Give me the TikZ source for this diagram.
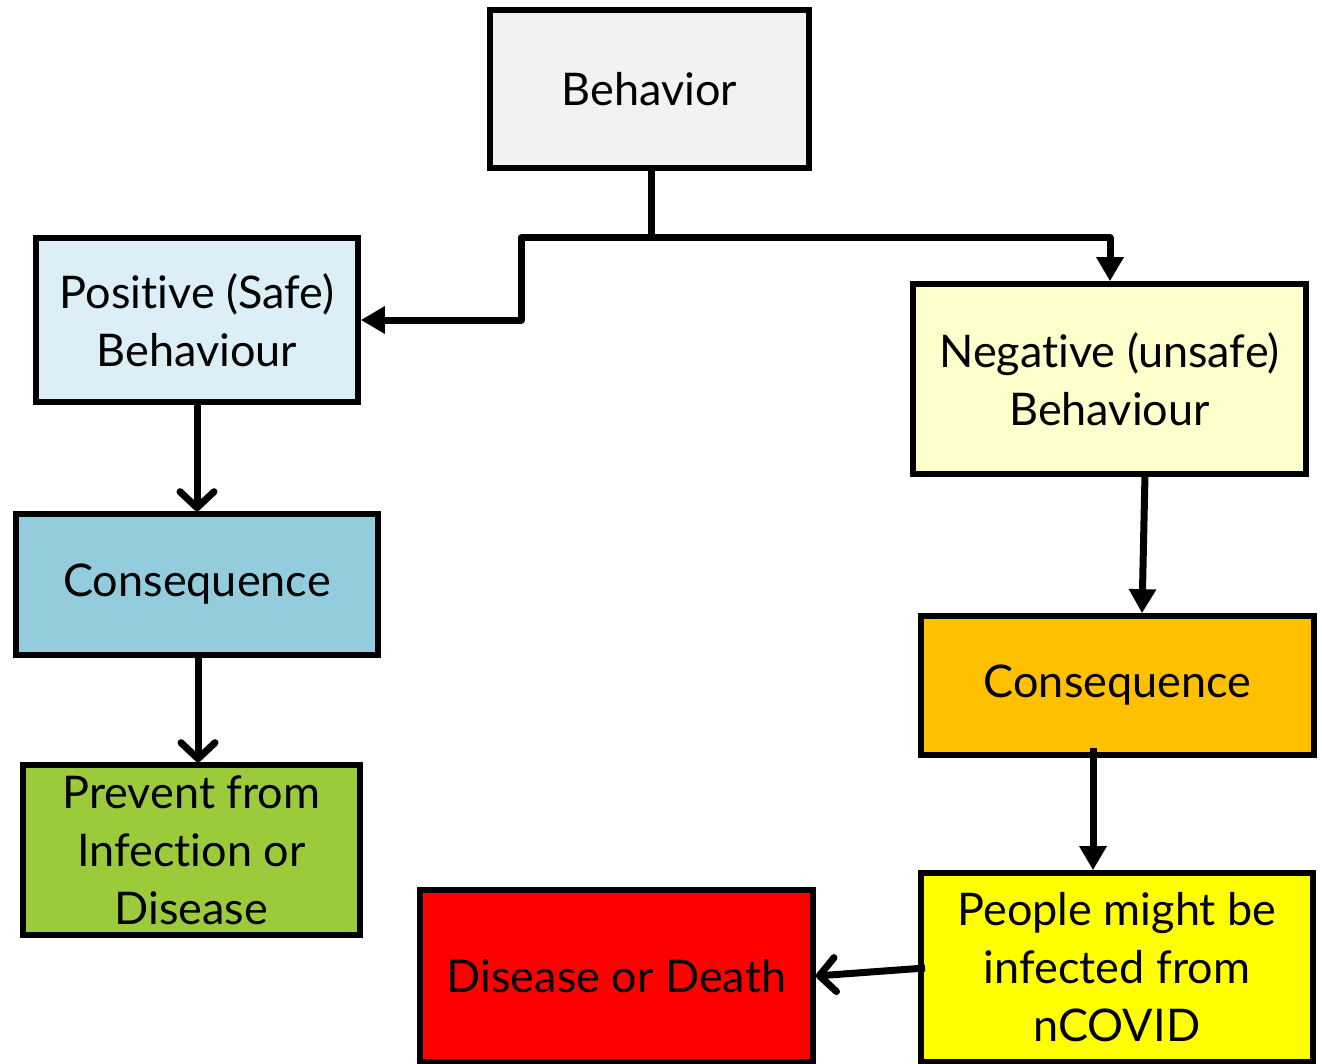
\documentclass[tikz,border=0pt]{standalone}
\usepackage{fontspec}
\setmainfont{Lato}[Ligatures={NoCommon,NoRare,NoDiscretionary}]
\usetikzlibrary{arrows.meta}
\begin{document}
\begin{tikzpicture}[x=0.5pt,y=-0.5pt,
  box/.style={draw=black,line width=2.8pt,inner sep=0pt,align=center,
    font=\fontsize{22.5}{29}\selectfont,text=black},
  conn/.style={line width=3.5pt,line join=round},
  tri/.style={-{Triangle[length=12pt,width=13pt]}},
  vee/.style={-{Straight Barb[length=8pt,width=17pt,line cap=round,line join=round]}}]
\useasboundingbox (0,0) rectangle (1322,1064);
\definecolor{cgray}{HTML}{F2F2F2}
\definecolor{cpos}{HTML}{DDEFF6}
\definecolor{ccon1}{HTML}{93CDDD}
\definecolor{cgreen}{HTML}{9BCB3B}
\definecolor{cneg}{HTML}{FFFFCC}
\definecolor{ccon2}{HTML}{FFC000}
\definecolor{cyel}{HTML}{FFFF00}
\definecolor{cred}{HTML}{FF0000}
\node[box,fill=cgray,minimum width=159.5pt,minimum height=79pt] (beh) at (649.5,89) {Behavior};
\node[box,fill=cpos,minimum width=161pt,minimum height=82pt] (pos) at (197,320) {Positive (Safe)\\Behaviour};
\node[box,fill=ccon1,minimum width=181pt,minimum height=70.5pt] (con1) at (197,584.5) {\raisebox{2pt}{Consequence}};
\node[box,fill=cgreen,minimum width=168.5pt,minimum height=85pt] (prev) at (191.5,850) {Prevent from\\Infection or\\Disease};
\node[box,fill=cneg,minimum width=196.5pt,minimum height=95pt] (neg) at (1109.5,379) {Negative (unsafe)\\Behaviour};
\node[box,fill=ccon2,minimum width=196.5pt,minimum height=69.5pt] (con2) at (1117.5,685.5) {Consequence};
\node[box,fill=cyel,minimum width=196pt,minimum height=94.5pt] (ppl) at (1117,967.5) {People might be\\infected from\\nCOVID};
\node[box,fill=cred,minimum width=196.5pt,minimum height=86pt] (dis) at (616.5,976) {Disease or Death};
\coordinate (j) at (651,238);
\draw[conn] (beh.south -| j) -- (j);
\draw[conn,tri] (j) -- (521,238) -- (521,320) -- (pos.east);
\draw[conn,tri] (j) -- (1110,238) -- (neg.north -| 1110,0);
\draw[conn,vee] (pos.south) -- (con1.north);
\draw[conn,vee] (con1.south -| 198,0) -- (prev.north -| 198,0);
\draw[conn,tri] (1145,474) -- (con2.north -| 1142,0);
\coordinate (c2s) at (1093,748);
\draw[conn,tri] (c2s) -- (ppl.north -| c2s);
\coordinate (pw) at (925,968);
\draw[conn,vee] (pw) -- (dis.east);
\end{tikzpicture}
\end{document}
